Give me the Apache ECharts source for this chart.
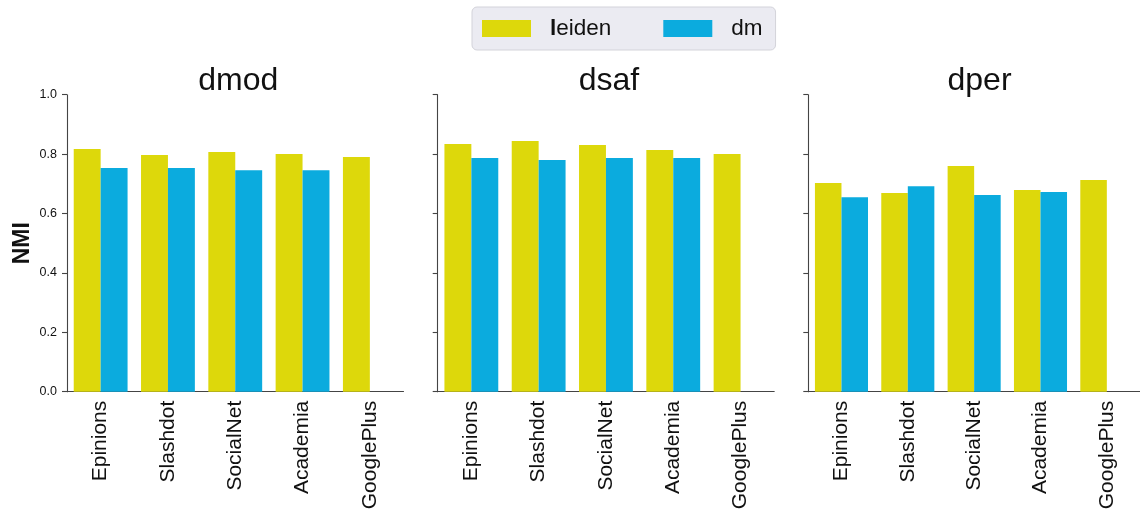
<!DOCTYPE html>
<html>
<head>
<meta charset="utf-8">
<script src="https://cdn.jsdelivr.net/npm/echarts@6/dist/echarts.min.js"></script>
<style>
  html, body { margin: 0; padding: 0; background: #ffffff; }
  #chart { width: 1140px; height: 516px; }
</style>
</head>
<body>
<div id="chart"></div>
<script>
// Datasets on the x axis
const categories = ['Epinions', 'Slashdot', 'SocialNet', 'Academia', 'GooglePlus'];
// One panel per quality measure
const panelTitles = ['dmod', 'dsaf', 'dper'];
// NMI scores (null = no result)
const leidenDmod = [0.817, 0.797, 0.807, 0.800, 0.790];
const dmDmod     = [0.753, 0.753, 0.746, 0.746, null];
const leidenDsaf = [0.834, 0.844, 0.831, 0.814, 0.800];
const dmDsaf     = [0.787, 0.780, 0.787, 0.787, null];
const leidenDper = [0.703, 0.669, 0.760, 0.679, 0.713];
const dmDper     = [0.655, 0.692, 0.662, 0.672, null];
const yTicks = [0.0, 0.2, 0.4, 0.6, 0.8, 1.0];

const FONT = '"Liberation Sans", Arial, Helvetica, sans-serif';
const LEIDEN_COLOR = '#DDD80B';
const DM_COLOR = '#0BABDE';
const AXIS_COLOR = '#444444';

const gridLefts = [67, 437.7, 808.3];
const gridWidth = 336.5;
const gridTop = 94.7;
const gridHeight = 297;

const leidenSets = [leidenDmod, leidenDsaf, leidenDper];
const dmSets = [dmDmod, dmDsaf, dmDper];

const grids = gridLefts.map(l => ({
  left: l, top: gridTop, width: gridWidth, height: gridHeight, containLabel: false
}));

const xAxes = gridLefts.map((_, i) => ({
  type: 'category',
  gridIndex: i,
  data: categories,
  boundaryGap: true,
  axisLine: { lineStyle: { color: AXIS_COLOR, width: 1.1 } },
  axisTick: { alignWithLabel: true, length: 5, lineStyle: { color: AXIS_COLOR, width: 1.1 } },
  axisLabel: {
    rotate: 90, margin: 9, color: '#111', fontSize: 21, fontFamily: FONT
  },
  splitLine: { show: false }
}));

const yAxes = gridLefts.map((_, i) => ({
  type: 'value',
  gridIndex: i,
  min: yTicks[0],
  max: yTicks[yTicks.length - 1],
  interval: 0.2,
  name: i === 0 ? 'NMI' : '',
  nameLocation: 'middle',
  nameRotate: 90,
  nameGap: 33,
  nameTextStyle: { fontSize: 23, fontWeight: 'bold', color: '#111', fontFamily: FONT },
  axisLine: { show: true, lineStyle: { color: AXIS_COLOR, width: 1.1 } },
  axisTick: { show: true, length: 5, lineStyle: { color: AXIS_COLOR, width: 1.1 } },
  axisLabel: {
    show: i === 0, margin: 10, color: '#111', fontSize: 12.5, fontFamily: FONT,
    formatter: v => v.toFixed(1)
  },
  splitLine: { show: false }
}));

const series = [];
gridLefts.forEach((_, i) => {
  series.push({
    name: 'leiden', type: 'bar', xAxisIndex: i, yAxisIndex: i,
    data: leidenSets[i], barWidth: '40%', barGap: '0%',
    itemStyle: { color: LEIDEN_COLOR }
  });
  series.push({
    name: 'dm', type: 'bar', xAxisIndex: i, yAxisIndex: i,
    data: dmSets[i], barWidth: '40%', barGap: '0%',
    itemStyle: { color: DM_COLOR }
  });
});

const titles = panelTitles.map((t, i) => ({
  text: t,
  left: gridLefts[i] + gridWidth / 2 - 2,
  top: 60,
  textAlign: 'center',
  textStyle: { fontSize: 32, fontWeight: 'normal', color: '#111', fontFamily: FONT }
}));

const option = {
  backgroundColor: '#ffffff',
  animation: false,
  title: titles,
  legend: {
    data: ['leiden', 'dm'],
    left: 472,
    top: 7,
    orient: 'horizontal',
    itemWidth: 49,
    itemHeight: 17,
    itemGap: 52,
    padding: [10, 13, 10, 10],
    backgroundColor: '#EBEBF2',
    borderColor: '#D3D3DA',
    borderWidth: 1,
    borderRadius: 5,
    icon: 'rect',
    formatter: name => name === 'leiden' ? '{b|l}{r|eiden}' : '{r|' + name + '}',
    textStyle: {
      padding: [0, 0, 0, 14],
      rich: {
        b: { fontSize: 22.5, fontWeight: 'bold', color: '#111', fontFamily: FONT },
        r: { fontSize: 22.5, color: '#111', fontFamily: FONT }
      }
    }
  },
  grid: grids,
  xAxis: xAxes,
  yAxis: yAxes,
  series: series
};

const chart = echarts.init(document.getElementById('chart'), null, { renderer: 'canvas' });
chart.setOption(option);
</script>
</body>
</html>
